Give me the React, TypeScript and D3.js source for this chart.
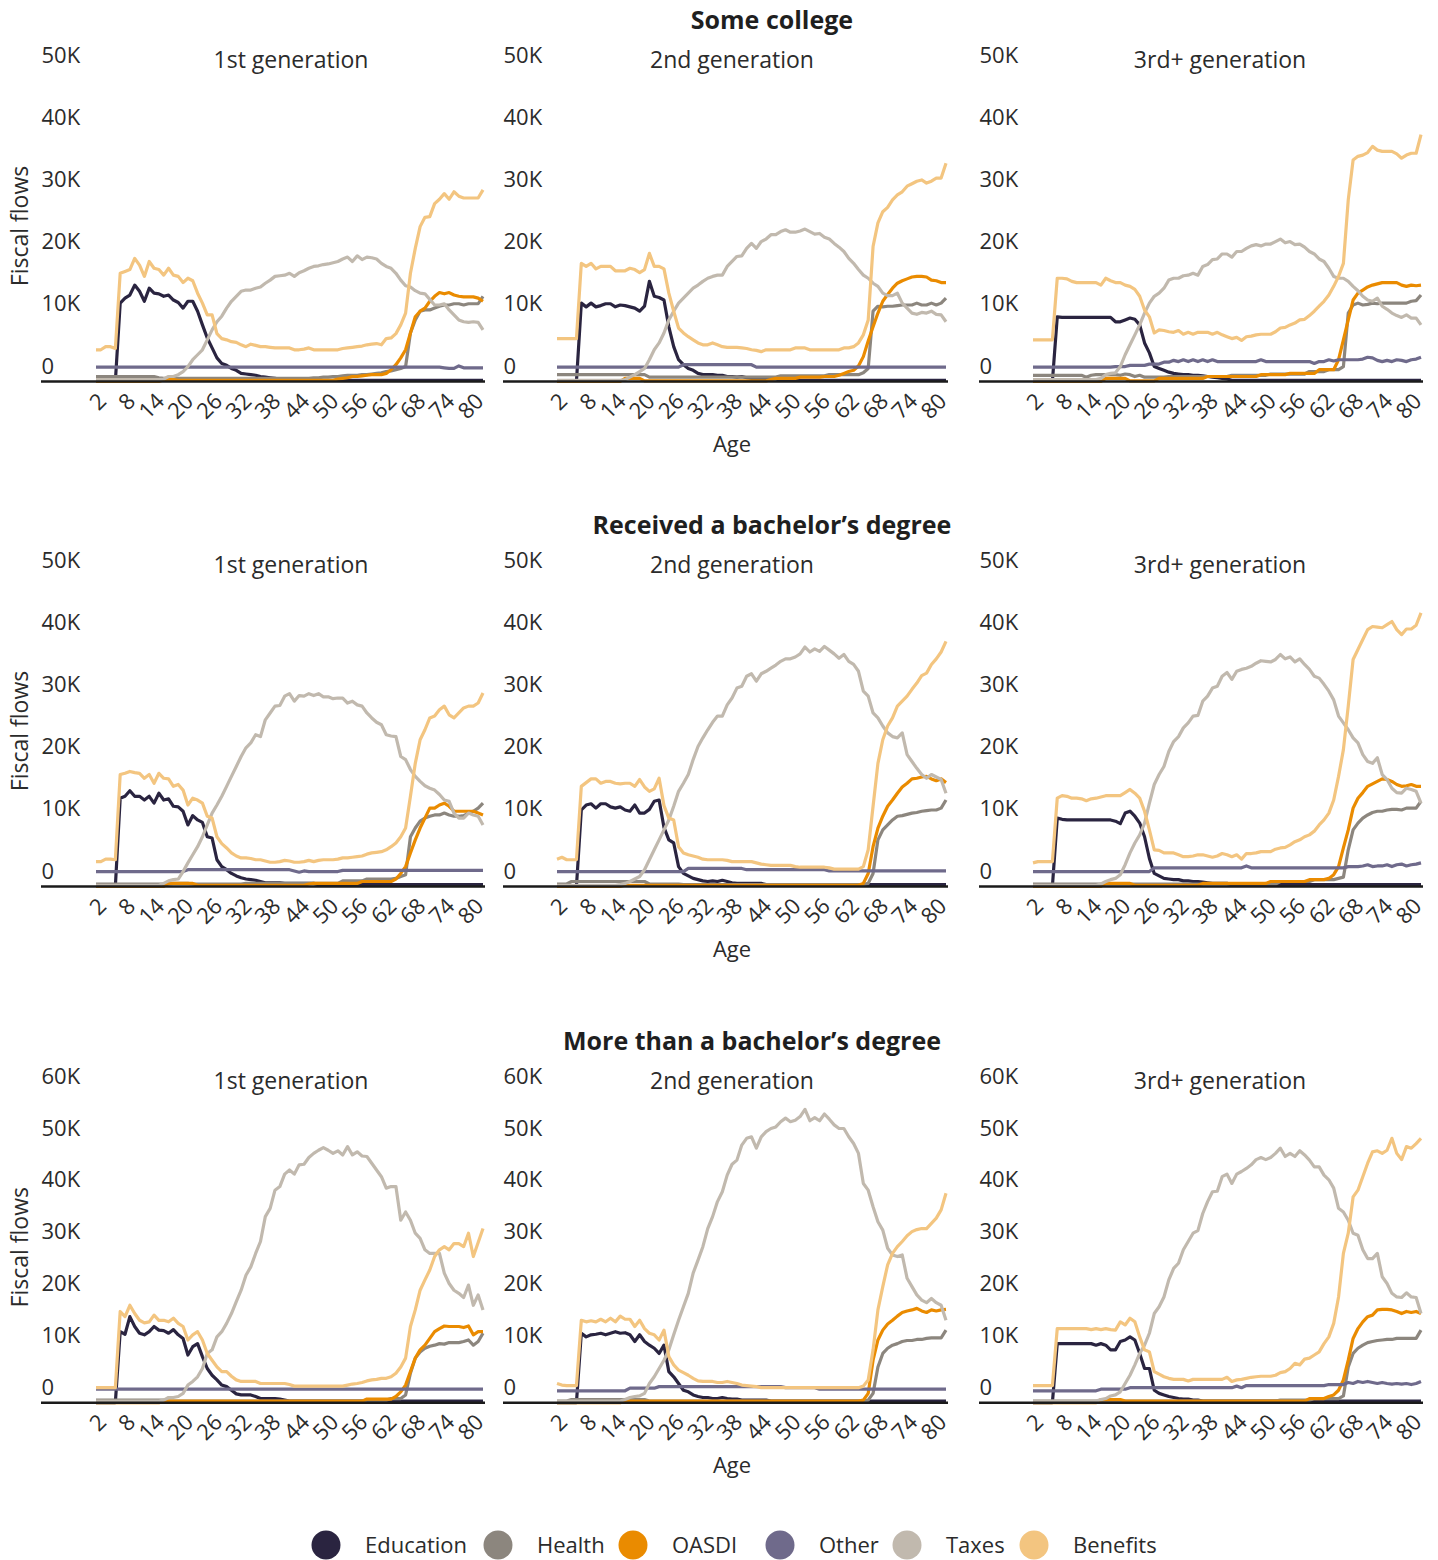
import React from 'react';
import * as d3 from 'd3';

// Ages on the horizontal axis and the ages that carry a tick label
const AGES = [
  0, 1, 2, 3, 4, 5, 6, 7, 8, 9, 10, 11, 12, 13, 14, 15, 16, 17, 18, 19,
  20, 21, 22, 23, 24, 25, 26, 27, 28, 29, 30, 31, 32, 33, 34, 35, 36, 37, 38, 39,
  40, 41, 42, 43, 44, 45, 46, 47, 48, 49, 50, 51, 52, 53, 54, 55, 56, 57, 58, 59,
  60, 61, 62, 63, 64, 65, 66, 67, 68, 69, 70, 71, 72, 73, 74, 75, 76, 77, 78, 79, 80,
];
const AGE_TICKS = [2, 8, 14, 20, 26, 32, 38, 44, 50, 56, 62, 68, 74, 80];

const SERIES = ['Education', 'Health', 'OASDI', 'Other', 'Taxes', 'Benefits'];
const SERIES_COLORS = ['#2a2440', '#8c867e', '#ea8b00', '#6f6a8b', '#c1b9ae', '#f3c580'];

const EDUCATION_LEVELS = ['Some college', 'Received a bachelor\u2019s degree', 'More than a bachelor\u2019s degree'];
const GENERATIONS = ['1st generation', '2nd generation', '3rd+ generation'];

// y ticks, thousands of dollars
const Y_TICKS_50 = [0, 10, 20, 30, 40, 50];
const Y_TICKS_60 = [0, 10, 20, 30, 40, 50, 60];

// Fiscal flows per person, thousands of dollars, ages 0..80
// ---- Some college, 1st generation
const SC1_EDU = [
  0, 0, 0, 0, 0, 12.6, 13.4, 13.9, 15.5, 14.5,
  12.9, 15.0, 14.2, 14.1, 13.7, 13.9, 13.1, 12.7, 11.8, 12.9,
  12.9, 11.3, 9.1, 7.0, 5.4, 3.8, 2.9, 2.6, 2.1, 1.8,
  1.3, 1.2, 1.1, 1.0, 0.8, 0.7, 0.6, 0.5, 0.4, 0.3,
  0.3, 0.2, 0.2, 0.2, 0.2, 0.2, 0.2, 0.2, 0.2, 0.2,
  0.2, 0.2, 0.2, 0.2, 0.2, 0.2, 0.2, 0.2, 0.2, 0.2,
  0.2, 0.2, 0.2, 0.2, 0.2, 0.2, 0.2, 0.2, 0.2, 0.2,
  0.2, 0.2, 0.2, 0.2, 0.2, 0.2, 0.2, 0.2, 0.2, 0.2,
  0.2,
];
const SC1_HEA = [
  0.8, 0.8, 0.8, 0.8, 0.8, 0.8, 0.8, 0.8, 0.8, 0.8,
  0.8, 0.8, 0.8, 0.6, 0.5, 0.5, 0.5, 0.5, 0.5, 0.5,
  0.5, 0.5, 0.5, 0.5, 0.5, 0.5, 0.5, 0.5, 0.5, 0.5,
  0.5, 0.5, 0.5, 0.5, 0.5, 0.5, 0.5, 0.5, 0.5, 0.5,
  0.5, 0.5, 0.5, 0.5, 0.5, 0.6, 0.6, 0.7, 0.7, 0.8,
  0.8, 0.9, 1.0, 1.0, 1.0, 1.1, 1.1, 1.2, 1.3, 1.4,
  1.6, 1.7, 1.9, 2.1, 2.4, 7.8, 9.9, 11.3, 11.5, 11.5,
  11.8, 12.1, 12.3, 12.3, 12.5, 12.5, 12.3, 12.5, 12.5, 12.5,
  13.7,
];
const SC1_OAS = [
  0, 0, 0, 0, 0, 0, 0, 0, 0, 0,
  0, 0, 0, 0, 0.3, 0.3, 0.3, 0.2, 0.2, 0.2,
  0.2, 0.2, 0.2, 0.2, 0.2, 0.2, 0.2, 0.2, 0.2, 0.2,
  0.2, 0.2, 0.2, 0.2, 0.2, 0.2, 0.2, 0.2, 0.2, 0.2,
  0.2, 0.2, 0.2, 0.2, 0.2, 0.2, 0.2, 0.2, 0.2, 0.2,
  0.4, 0.5, 0.6, 0.8, 0.8, 0.9, 1.0, 1.1, 1.1, 1.1,
  1.3, 1.9, 2.7, 3.8, 5.1, 7.8, 10.4, 11.3, 11.8, 12.9,
  13.7, 14.3, 14.1, 14.3, 13.9, 13.7, 13.6, 13.6, 13.6, 13.4,
  12.9,
];
const SC1_OTH = [
  2.3, 2.3, 2.3, 2.3, 2.3, 2.3, 2.3, 2.3, 2.3, 2.3,
  2.3, 2.3, 2.3, 2.3, 2.3, 2.3, 2.3, 2.3, 2.3, 2.3,
  2.3, 2.3, 2.3, 2.3, 2.3, 2.3, 2.3, 2.3, 2.3, 2.3,
  2.3, 2.3, 2.3, 2.3, 2.3, 2.3, 2.3, 2.3, 2.3, 2.3,
  2.3, 2.3, 2.3, 2.3, 2.3, 2.3, 2.3, 2.3, 2.3, 2.3,
  2.3, 2.3, 2.3, 2.3, 2.3, 2.3, 2.3, 2.3, 2.3, 2.3,
  2.3, 2.3, 2.3, 2.3, 2.3, 2.3, 2.3, 2.3, 2.3, 2.3,
  2.3, 2.3, 2.2, 2.1, 2.1, 2.5, 2.2, 2.2, 2.2, 2.2,
  2.2,
];
const SC1_TAX = [
  0.3, 0.3, 0.3, 0.3, 0.3, 0.3, 0.3, 0.3, 0.3, 0.3,
  0.3, 0.3, 0.3, 0.3, 0.4, 0.8, 0.8, 1.1, 1.6, 2.4,
  3.5, 4.3, 5.1, 6.7, 8.3, 9.6, 10.5, 11.8, 12.9, 13.7,
  14.5, 14.7, 14.7, 15.0, 15.2, 15.8, 16.3, 16.9, 17.0, 17.1,
  17.4, 16.9, 17.5, 17.8, 18.2, 18.5, 18.6, 18.8, 18.9, 19.1,
  19.3, 19.7, 20.0, 19.3, 20.2, 19.6, 20.0, 19.9, 19.7, 19.0,
  18.5, 18.2, 17.4, 16.3, 15.4, 15.2, 14.6, 14.2, 14.1, 13.2,
  12.3, 12.3, 12.5, 11.5, 10.7, 9.9, 9.6, 9.5, 9.6, 9.5,
  8.3,
];
const SC1_BEN = [
  5.1, 5.1, 5.6, 5.6, 5.3, 17.4, 17.7, 18.0, 19.8, 18.7,
  16.9, 19.3, 18.2, 18.0, 17.1, 18.2, 17.1, 16.9, 15.9, 16.6,
  16.2, 14.2, 12.6, 10.7, 10.7, 7.7, 6.9, 6.7, 6.4, 6.3,
  5.9, 5.6, 6.0, 5.8, 5.6, 5.6, 5.5, 5.4, 5.4, 5.4,
  5.4, 5.1, 5.1, 5.2, 5.4, 5.1, 5.1, 5.1, 5.1, 5.1,
  5.1, 5.3, 5.4, 5.5, 5.6, 5.7, 5.9, 6.0, 6.1, 5.9,
  6.9, 7.0, 7.7, 9.1, 11.0, 17.4, 21.4, 24.9, 26.4, 26.5,
  28.6, 29.3, 30.2, 29.3, 30.5, 29.8, 29.5, 29.5, 29.5, 29.5,
  30.8,
];

// ---- Some college, 2nd generation
const SC2_EDU = [
  0, 0, 0, 0, 0, 12.6, 12.0, 12.6, 12.0, 12.2,
  12.5, 12.5, 12.0, 12.3, 12.2, 12.0, 11.8, 11.3, 12.1, 16.1,
  13.7, 13.5, 13.1, 8.8, 5.6, 3.5, 2.7, 2.1, 1.8, 1.3,
  1.1, 1.1, 1.1, 1.0, 1.0, 0.8, 0.8, 0.7, 0.8, 0.6,
  0.5, 0.4, 0.4, 0.4, 0.4, 0.4, 0.2, 0.2, 0.2, 0.2,
  0.2, 0.2, 0.2, 0.2, 0.2, 0.2, 0.2, 0.2, 0.2, 0.2,
  0.2, 0.2, 0.2, 0.2, 0.2, 0.2, 0.2, 0.2, 0.2, 0.2,
  0.2, 0.2, 0.2, 0.2, 0.2, 0.2, 0.2, 0.2, 0.2, 0.2,
  0.2,
];
const SC2_HEA = [
  1.1, 1.1, 1.1, 1.1, 1.1, 1.1, 1.1, 1.1, 1.1, 1.1,
  1.1, 1.1, 1.1, 1.1, 1.1, 1.1, 1.1, 1.1, 1.1, 0.7,
  0.7, 0.7, 0.7, 0.7, 0.7, 0.7, 0.7, 0.7, 0.7, 0.7,
  0.7, 0.7, 0.7, 0.7, 0.7, 0.7, 0.7, 0.7, 0.7, 0.7,
  0.7, 0.7, 0.7, 0.7, 0.7, 0.7, 0.9, 0.9, 0.9, 0.9,
  0.9, 0.9, 0.9, 0.9, 0.9, 0.9, 1.1, 1.1, 1.1, 1.1,
  1.1, 1.1, 1.1, 1.4, 2.1, 11.3, 12.1, 12.0, 12.1, 12.1,
  12.2, 12.3, 12.3, 12.3, 12.6, 12.3, 12.3, 12.6, 12.3, 12.6,
  13.4,
];
const SC2_OAS = [
  0, 0, 0, 0, 0, 0, 0, 0, 0, 0,
  0, 0, 0, 0, 0.5, 0.5, 0.5, 0.5, 0.1, 0.1,
  0.1, 0.1, 0.1, 0.1, 0.1, 0.1, 0.1, 0.1, 0.1, 0.1,
  0.1, 0.1, 0.1, 0.1, 0.1, 0.1, 0.1, 0.1, 0.1, 0.1,
  0.1, 0.1, 0.1, 0.1, 0.3, 0.5, 0.5, 0.5, 0.5, 0.5,
  0.7, 0.7, 0.7, 0.7, 0.7, 0.8, 0.8, 0.8, 1.0, 1.3,
  1.6, 1.8, 2.5, 4.0, 6.5, 8.8, 11.0, 12.9, 14.0, 15.0,
  15.8, 16.2, 16.5, 16.8, 16.9, 16.9, 16.8, 16.3, 16.2, 15.9,
  15.9,
];
const SC2_OTH = [
  2.3, 2.3, 2.3, 2.3, 2.3, 2.3, 2.3, 2.3, 2.3, 2.3,
  2.3, 2.3, 2.3, 2.3, 2.3, 2.3, 2.3, 2.3, 2.3, 2.3,
  2.3, 2.3, 2.3, 2.3, 2.3, 2.3, 2.7, 2.7, 2.7, 2.7,
  2.7, 2.7, 2.7, 2.7, 2.7, 2.7, 2.7, 2.7, 2.7, 2.7,
  2.7, 2.3, 2.3, 2.3, 2.3, 2.3, 2.3, 2.3, 2.3, 2.3,
  2.3, 2.3, 2.3, 2.3, 2.3, 2.3, 2.3, 2.3, 2.3, 2.3,
  2.3, 2.3, 2.3, 2.3, 2.3, 2.3, 2.3, 2.3, 2.3, 2.3,
  2.3, 2.3, 2.3, 2.3, 2.3, 2.3, 2.3, 2.3, 2.3, 2.3,
  2.3,
];
const SC2_TAX = [
  0.2, 0.2, 0.2, 0.2, 0.2, 0.2, 0.2, 0.2, 0.2, 0.2,
  0.2, 0.2, 0.2, 0.2, 0.3, 0.7, 1.1, 1.6, 2.1, 3.5,
  5.1, 6.2, 7.8, 9.9, 11.3, 12.6, 13.4, 14.2, 15.0, 15.5,
  16.1, 16.6, 16.9, 17.1, 17.1, 18.5, 19.3, 20.1, 20.2, 21.4,
  22.2, 21.4, 22.5, 22.9, 23.6, 23.6, 24.1, 24.4, 24.0, 24.0,
  24.2, 24.5, 24.1, 23.7, 23.8, 23.2, 22.9, 22.2, 21.6, 20.9,
  19.8, 19.0, 18.0, 17.1, 16.6, 15.8, 15.3, 14.2, 13.8, 13.8,
  14.2, 12.6, 11.8, 11.0, 10.8, 11.1, 11.0, 11.3, 10.8, 10.7,
  9.6,
];
const SC2_BEN = [
  6.9, 6.9, 6.9, 6.9, 6.9, 19.0, 18.5, 19.0, 18.1, 18.5,
  18.5, 18.5, 17.8, 17.8, 17.8, 18.2, 18.0, 17.5, 18.0, 20.6,
  18.5, 18.5, 18.1, 14.2, 11.3, 8.6, 7.8, 7.2, 6.7, 6.2,
  5.9, 5.9, 6.2, 5.9, 5.6, 5.5, 5.5, 5.5, 5.4, 5.3,
  5.1, 5.0, 4.8, 5.1, 5.1, 5.1, 5.1, 5.1, 5.1, 5.4,
  5.4, 5.4, 5.1, 5.1, 5.1, 5.1, 5.1, 5.1, 5.1, 5.4,
  5.4, 5.6, 6.2, 7.5, 9.9, 21.7, 25.5, 27.3, 28.0, 29.2,
  30.0, 30.5, 31.4, 31.8, 32.2, 32.4, 31.9, 32.2, 32.7, 32.7,
  35.1,
];

// ---- Some college, 3rd+ generation
const SC3_EDU = [
  0, 0, 0, 0, 0, 10.4, 10.3, 10.3, 10.3, 10.3,
  10.3, 10.3, 10.3, 10.3, 10.3, 10.3, 10.3, 9.6, 9.6, 9.9,
  10.2, 10.0, 9.1, 6.2, 4.6, 2.4, 2.1, 1.8, 1.5, 1.3,
  1.2, 1.1, 1.1, 1.0, 1.0, 0.9, 0.8, 0.7, 0.6, 0.5,
  0.4, 0.2, 0.2, 0.2, 0.2, 0.2, 0.2, 0.2, 0.2, 0.2,
  0.2, 0.2, 0.2, 0.2, 0.2, 0.2, 0.2, 0.2, 0.2, 0.2,
  0.2, 0.2, 0.2, 0.2, 0.2, 0.2, 0.2, 0.2, 0.2, 0.2,
  0.2, 0.2, 0.2, 0.2, 0.2, 0.2, 0.2, 0.2, 0.2, 0.2,
  0.2,
];
const SC3_HEA = [
  1.0, 1.0, 1.0, 1.0, 1.0, 1.0, 1.0, 1.0, 1.0, 1.0,
  1.0, 0.7, 1.0, 1.1, 1.1, 1.1, 1.1, 1.1, 1.0, 1.2,
  1.1, 0.8, 1.0, 0.7, 0.7, 0.7, 0.7, 0.7, 0.8, 0.8,
  0.8, 0.8, 0.8, 0.8, 0.8, 0.8, 0.8, 0.8, 0.8, 0.8,
  0.8, 1.0, 1.0, 1.0, 1.0, 1.0, 1.0, 1.0, 1.0, 1.2,
  1.2, 1.2, 1.2, 1.2, 1.2, 1.2, 1.2, 1.6, 1.6, 1.6,
  1.6, 1.9, 1.9, 1.9, 2.4, 11.0, 12.3, 12.6, 12.3, 12.4,
  12.6, 12.5, 12.6, 12.6, 12.6, 12.6, 12.6, 12.6, 12.9, 13.0,
  13.9,
];
const SC3_OAS = [
  0, 0, 0, 0, 0, 0, 0, 0, 0, 0,
  0, 0, 0, 0, 0, 0.5, 0.5, 0.5, 0.5, 0.5,
  0.1, 0.1, 0.1, 0.1, 0.1, 0.1, 0.5, 0.5, 0.5, 0.5,
  0.5, 0.5, 0.5, 0.5, 0.5, 0.5, 0.8, 0.8, 0.8, 0.8,
  0.8, 0.8, 0.8, 0.8, 0.8, 0.8, 0.8, 1.1, 1.1, 1.1,
  1.1, 1.1, 1.1, 1.3, 1.3, 1.3, 1.3, 1.3, 1.3, 1.9,
  1.9, 1.9, 1.9, 3.5, 6.7, 9.9, 13.1, 14.2, 14.7, 15.2,
  15.5, 15.7, 15.9, 15.9, 15.9, 15.9, 15.5, 15.3, 15.5, 15.4,
  15.5,
];
const SC3_OTH = [
  2.3, 2.3, 2.3, 2.3, 2.3, 2.3, 2.3, 2.3, 2.3, 2.3,
  2.3, 2.3, 2.3, 2.3, 2.3, 2.3, 2.3, 2.4, 2.4, 2.4,
  2.6, 2.6, 2.6, 2.6, 2.8, 2.8, 2.8, 3.1, 3.1, 3.4,
  3.2, 3.5, 3.2, 3.5, 3.2, 3.5, 3.2, 3.5, 3.2, 3.2,
  3.2, 3.2, 3.2, 3.2, 3.2, 3.2, 3.2, 3.5, 3.2, 3.2,
  3.2, 3.2, 3.2, 3.2, 3.2, 3.2, 3.2, 3.2, 2.9, 3.2,
  3.2, 3.5, 3.3, 3.5, 3.5, 3.5, 3.5, 3.5, 3.6, 3.9,
  3.8, 3.4, 3.2, 3.4, 3.2, 3.5, 3.4, 3.2, 3.5, 3.6,
  3.9,
];
const SC3_TAX = [
  0.3, 0.3, 0.3, 0.3, 0.3, 0.3, 0.3, 0.3, 0.3, 0.3,
  0.3, 0.3, 0.3, 0.3, 0.5, 1.1, 1.3, 1.4, 2.4, 4.3,
  5.9, 7.5, 9.1, 11.0, 12.6, 13.7, 14.2, 15.0, 16.3, 16.6,
  16.6, 17.0, 17.1, 17.4, 17.1, 18.5, 18.8, 19.6, 19.7, 20.5,
  20.5, 20.0, 20.9, 20.9, 21.4, 21.8, 22.0, 21.8, 22.1, 22.1,
  22.5, 22.9, 22.3, 22.5, 22.0, 22.1, 21.6, 20.9, 20.5, 19.7,
  19.3, 18.2, 16.9, 16.6, 16.6, 16.1, 15.3, 14.6, 13.7, 13.1,
  12.9, 13.4, 12.1, 11.6, 11.0, 10.6, 10.3, 10.7, 10.2, 10.2,
  9.1,
];
const SC3_BEN = [
  6.7, 6.7, 6.7, 6.7, 6.7, 16.6, 16.6, 16.5, 16.1, 15.9,
  15.9, 15.9, 15.9, 15.9, 15.5, 16.6, 16.2, 15.9, 15.9, 15.5,
  15.3, 14.8, 13.7, 11.5, 10.4, 7.8, 8.3, 8.2, 8.0, 7.9,
  8.2, 7.6, 7.9, 7.6, 7.9, 7.9, 7.9, 7.6, 7.9, 7.5,
  7.2, 6.9, 7.1, 6.6, 7.2, 7.3, 7.5, 7.6, 7.6, 7.6,
  8.0, 8.6, 8.7, 9.1, 9.4, 9.9, 10.0, 10.6, 11.3, 12.1,
  12.9, 13.9, 15.3, 16.9, 19.0, 29.2, 35.6, 36.2, 36.4, 36.8,
  37.8, 37.2, 37.0, 37.0, 37.0, 36.6, 35.9, 36.4, 36.7, 36.7,
  39.7,
];

// ---- Bachelor's degree, 1st generation
const BA1_EDU = [
  0, 0, 0, 0, 0, 14.2, 14.5, 15.4, 14.5, 14.5,
  13.9, 14.5, 13.4, 15.0, 13.9, 14.1, 12.9, 12.8, 12.1, 9.9,
  11.4, 10.7, 10.3, 8.0, 7.8, 4.3, 3.2, 2.7, 2.1, 1.7,
  1.4, 1.2, 1.1, 1.0, 0.8, 0.6, 0.6, 0.6, 0.6, 0.5,
  0.5, 0.5, 0.5, 0.5, 0.5, 0.5, 0.3, 0.3, 0.3, 0.3,
  0.3, 0.3, 0.3, 0.3, 0.3, 0.3, 0.3, 0.3, 0.3, 0.3,
  0.3, 0.3, 0.3, 0.3, 0.3, 0.3, 0.3, 0.3, 0.3, 0.3,
  0.3, 0.3, 0.3, 0.3, 0.3, 0.3, 0.3, 0.3, 0.3, 0.3,
  0.3,
];
const BA1_HEA = [
  0.4, 0.4, 0.4, 0.4, 0.4, 0.4, 0.4, 0.4, 0.4, 0.4,
  0.4, 0.4, 0.4, 0.4, 0.4, 0.4, 0.5, 0.5, 0.5, 0.5,
  0.4, 0.4, 0.4, 0.4, 0.4, 0.4, 0.4, 0.4, 0.4, 0.4,
  0.4, 0.5, 0.5, 0.5, 0.5, 0.5, 0.5, 0.5, 0.5, 0.5,
  0.5, 0.5, 0.5, 0.5, 0.5, 0.5, 0.5, 0.5, 0.5, 0.5,
  0.5, 0.9, 0.9, 0.9, 0.9, 0.9, 1.2, 1.2, 1.2, 1.2,
  1.2, 1.2, 1.3, 1.6, 1.9, 8.0, 9.4, 10.5, 11.0, 11.3,
  11.5, 11.5, 11.8, 11.5, 11.3, 11.3, 11.4, 11.8, 12.1, 12.6,
  13.4,
];
const BA1_OAS = [
  0, 0, 0, 0, 0, 0, 0, 0, 0, 0,
  0, 0, 0, 0, 0, 0.5, 0.5, 0.5, 0.5, 0.5,
  0.5, 0.2, 0.2, 0.2, 0.2, 0.2, 0.2, 0.2, 0.2, 0.2,
  0.2, 0.2, 0.2, 0.2, 0.2, 0.2, 0.2, 0.2, 0.2, 0.2,
  0.2, 0.2, 0.2, 0.2, 0.4, 0.5, 0.5, 0.5, 0.5, 0.5,
  0.5, 0.5, 0.5, 0.5, 0.5, 0.8, 0.8, 0.8, 0.8, 0.8,
  0.8, 0.8, 1.2, 2.1, 3.2, 5.4, 7.5, 9.4, 11.0, 12.6,
  12.6, 13.1, 13.4, 12.9, 12.1, 12.1, 12.1, 12.1, 12.1, 11.8,
  11.5,
];
const BA1_OTH = [
  2.4, 2.4, 2.4, 2.4, 2.4, 2.4, 2.4, 2.4, 2.4, 2.4,
  2.4, 2.4, 2.4, 2.4, 2.4, 2.4, 2.4, 2.4, 2.4, 2.7,
  2.7, 2.7, 2.7, 2.7, 2.7, 2.7, 2.7, 2.7, 2.7, 2.7,
  2.7, 2.7, 2.7, 2.7, 2.7, 2.7, 2.7, 2.7, 2.7, 2.7,
  2.7, 2.5, 2.3, 2.5, 2.4, 2.4, 2.4, 2.4, 2.4, 2.4,
  2.4, 2.6, 2.6, 2.6, 2.6, 2.6, 2.6, 2.6, 2.6, 2.6,
  2.6, 2.6, 2.6, 2.6, 2.6, 2.6, 2.6, 2.6, 2.6, 2.6,
  2.6, 2.6, 2.6, 2.6, 2.6, 2.6, 2.6, 2.6, 2.6, 2.6,
  2.6,
];
const BA1_TAX = [
  0.2, 0.2, 0.2, 0.2, 0.2, 0.2, 0.2, 0.2, 0.2, 0.2,
  0.2, 0.2, 0.2, 0.2, 0.5, 0.9, 1.1, 1.2, 2.4, 3.8,
  5.1, 6.4, 8.0, 9.9, 11.8, 13.1, 14.5, 16.1, 17.7, 19.3,
  20.9, 22.3, 23.1, 24.4, 24.1, 26.8, 27.9, 29.0, 29.1, 30.6,
  31.0, 29.8, 30.7, 30.6, 31.0, 30.7, 31.0, 30.5, 30.5, 30.2,
  30.3, 30.3, 29.5, 29.8, 29.2, 29.0, 27.9, 27.1, 26.4, 26.0,
  24.4, 24.2, 24.1, 20.9, 20.4, 18.8, 17.7, 16.9, 16.2, 15.8,
  15.5, 14.8, 13.9, 13.7, 11.8, 11.0, 11.0, 11.8, 11.5, 11.3,
  9.9,
];
const BA1_BEN = [
  4.0, 4.0, 4.4, 4.4, 4.3, 18.0, 18.2, 18.5, 18.3, 18.2,
  17.4, 18.0, 16.6, 18.2, 17.4, 17.3, 16.1, 16.4, 15.5, 13.1,
  14.2, 13.9, 13.4, 11.3, 11.0, 8.0, 6.9, 6.2, 5.4, 4.9,
  4.6, 4.6, 4.5, 4.3, 4.3, 4.1, 3.9, 3.9, 4.0, 4.2,
  4.1, 3.9, 3.9, 4.0, 4.2, 4.0, 4.2, 4.3, 4.3, 4.3,
  4.4, 4.6, 4.6, 4.7, 4.8, 4.9, 5.2, 5.4, 5.5, 5.6,
  5.9, 6.4, 7.0, 8.0, 9.4, 14.5, 19.8, 23.6, 25.2, 27.1,
  27.4, 28.4, 29.0, 27.6, 27.1, 27.9, 28.7, 29.0, 29.0, 29.5,
  31.1,
];

// ---- Bachelor's degree, 2nd generation
const BA2_EDU = [
  0, 0, 0, 0, 0, 12.3, 13.1, 13.3, 12.6, 13.3,
  13.3, 12.8, 12.6, 12.8, 12.3, 12.1, 13.1, 11.8, 11.8, 12.4,
  13.7, 13.9, 9.5, 7.5, 7.0, 3.2, 2.1, 1.7, 1.3, 1.1,
  0.9, 0.8, 0.9, 0.8, 1.0, 0.8, 0.6, 0.5, 0.5, 0.5,
  0.5, 0.5, 0.5, 0.3, 0.3, 0.3, 0.3, 0.3, 0.3, 0.3,
  0.3, 0.3, 0.3, 0.3, 0.3, 0.3, 0.3, 0.3, 0.3, 0.3,
  0.3, 0.3, 0.3, 0.3, 0.3, 0.3, 0.3, 0.3, 0.3, 0.3,
  0.3, 0.3, 0.3, 0.3, 0.3, 0.3, 0.3, 0.3, 0.3, 0.3,
  0.3,
];
const BA2_HEA = [
  0.4, 0.4, 0.4, 0.8, 0.8, 0.8, 0.8, 0.8, 0.8, 0.8,
  0.8, 0.8, 0.8, 0.8, 0.8, 0.8, 0.8, 0.8, 0.8, 0.4,
  0.4, 0.4, 0.4, 0.4, 0.4, 0.4, 0.3, 0.3, 0.3, 0.3,
  0.3, 0.3, 0.3, 0.3, 0.3, 0.3, 0.3, 0.3, 0.3, 0.3,
  0.3, 0.3, 0.3, 0.3, 0.3, 0.3, 0.3, 0.3, 0.3, 0.3,
  0.3, 0.3, 0.3, 0.3, 0.3, 0.3, 0.3, 0.3, 0.3, 0.3,
  0.3, 0.3, 0.3, 0.3, 0.5, 2.1, 7.5, 9.1, 9.9, 10.7,
  11.3, 11.4, 11.6, 11.8, 11.9, 12.1, 12.2, 12.3, 12.3, 12.6,
  13.9,
];
const BA2_OAS = [
  0, 0, 0, 0, 0, 0, 0, 0, 0, 0,
  0, 0, 0, 0, 0.2, 0.2, 0.2, 0.2, 0.2, 0.2,
  0.2, 0.2, 0.2, 0.2, 0.2, 0.2, 0.2, 0.2, 0.2, 0.2,
  0.2, 0.2, 0.2, 0.2, 0.2, 0.2, 0.2, 0.2, 0.2, 0.2,
  0.2, 0.2, 0.2, 0.2, 0.2, 0.2, 0.2, 0.2, 0.2, 0.2,
  0.2, 0.2, 0.2, 0.2, 0.2, 0.2, 0.2, 0.2, 0.2, 0.2,
  0.2, 0.2, 0.2, 0.5, 2.1, 6.4, 9.4, 11.3, 12.9, 13.9,
  15.0, 16.0, 16.6, 17.3, 17.4, 17.6, 17.7, 17.3, 17.0, 17.3,
  16.7,
];
const BA2_OTH = [
  2.4, 2.4, 2.4, 2.4, 2.4, 2.4, 2.4, 2.4, 2.4, 2.4,
  2.4, 2.4, 2.4, 2.4, 2.4, 2.4, 2.4, 2.4, 2.4, 2.4,
  2.4, 2.4, 2.4, 2.4, 2.4, 2.4, 2.4, 2.9, 2.9, 2.9,
  2.9, 2.9, 2.9, 2.9, 2.9, 2.9, 2.9, 2.9, 2.9, 2.7,
  2.7, 2.7, 2.7, 2.7, 2.7, 2.7, 2.7, 2.7, 2.7, 2.7,
  2.7, 2.7, 2.7, 2.7, 2.7, 2.7, 2.5, 2.5, 2.5, 2.5,
  2.5, 2.5, 2.5, 2.5, 2.5, 2.5, 2.5, 2.5, 2.5, 2.5,
  2.5, 2.5, 2.5, 2.5, 2.5, 2.5, 2.5, 2.5, 2.5, 2.5,
  2.5,
];
const BA2_TAX = [
  0.2, 0.2, 0.2, 0.2, 0.2, 0.2, 0.2, 0.2, 0.2, 0.2,
  0.2, 0.2, 0.2, 0.3, 0.5, 0.8, 1.2, 1.6, 2.7, 4.3,
  5.9, 7.5, 9.1, 10.7, 12.9, 15.3, 16.6, 18.0, 20.4, 22.5,
  23.9, 25.2, 26.4, 27.4, 27.4, 29.2, 30.3, 31.9, 32.2, 33.8,
  34.2, 33.0, 34.2, 34.6, 35.1, 35.6, 36.2, 36.6, 36.6, 36.9,
  37.4, 38.5, 37.7, 38.2, 37.8, 38.6, 38.0, 37.4, 36.7, 37.3,
  36.2, 35.7, 34.6, 31.4, 30.6, 27.9, 27.1, 25.8, 24.7, 24.1,
  23.9, 24.7, 21.2, 20.1, 19.0, 18.0, 17.4, 18.0, 17.6, 17.2,
  15.0,
];
const BA2_BEN = [
  4.4, 4.7, 4.3, 4.3, 4.3, 16.1, 16.7, 17.3, 17.3, 16.6,
  16.9, 16.9, 16.6, 16.5, 16.6, 16.6, 16.1, 17.2, 16.0, 15.3,
  15.7, 17.4, 13.0, 11.0, 10.7, 6.4, 5.4, 5.1, 4.9, 4.7,
  4.4, 4.3, 4.3, 4.3, 4.3, 4.2, 4.0, 4.0, 4.0, 4.0,
  4.0, 3.8, 3.6, 3.5, 3.4, 3.4, 3.4, 3.4, 3.4, 3.2,
  3.1, 3.1, 3.1, 3.1, 3.1, 3.1, 3.0, 2.8, 2.8, 2.8,
  2.8, 2.8, 2.8, 3.2, 5.9, 12.9, 19.8, 23.6, 25.8, 27.1,
  29.0, 29.8, 30.6, 31.7, 32.7, 33.9, 34.3, 35.7, 36.6, 37.7,
  39.4,
];

// ---- Bachelor's degree, 3rd+ generation
const BA3_EDU = [
  0, 0, 0, 0, 0, 11.0, 10.8, 10.7, 10.7, 10.7,
  10.7, 10.7, 10.7, 10.7, 10.7, 10.7, 10.7, 10.5, 10.1, 11.8,
  12.1, 11.3, 10.2, 8.0, 4.5, 2.1, 1.7, 1.3, 1.2, 1.1,
  1.1, 0.9, 0.9, 0.8, 0.8, 0.7, 0.6, 0.5, 0.5, 0.5,
  0.5, 0.3, 0.3, 0.3, 0.3, 0.3, 0.3, 0.3, 0.3, 0.3,
  0.3, 0.3, 0.3, 0.3, 0.3, 0.3, 0.3, 0.3, 0.3, 0.3,
  0.3, 0.3, 0.3, 0.3, 0.3, 0.3, 0.3, 0.3, 0.3, 0.3,
  0.3, 0.3, 0.3, 0.3, 0.3, 0.3, 0.3, 0.3, 0.3, 0.3,
  0.3,
];
const BA3_HEA = [
  0.4, 0.4, 0.4, 0.4, 0.4, 0.4, 0.4, 0.4, 0.4, 0.4,
  0.4, 0.4, 0.4, 0.4, 0.4, 0.4, 0.4, 0.4, 0.4, 0.4,
  0.4, 0.4, 0.4, 0.4, 0.4, 0.4, 0.4, 0.4, 0.4, 0.4,
  0.4, 0.4, 0.4, 0.4, 0.4, 0.4, 0.4, 0.4, 0.4, 0.4,
  0.4, 0.4, 0.4, 0.4, 0.4, 0.4, 0.4, 0.4, 0.4, 0.4,
  0.4, 0.8, 0.8, 0.8, 0.8, 0.8, 0.8, 0.8, 1.1, 1.1,
  1.1, 1.1, 1.1, 1.3, 1.5, 5.9, 9.1, 10.2, 11.0, 11.5,
  11.9, 12.1, 12.1, 12.3, 12.4, 12.4, 12.3, 12.6, 12.6, 12.6,
  13.7,
];
const BA3_OAS = [
  0, 0, 0, 0, 0, 0, 0, 0, 0, 0,
  0, 0, 0, 0, 0, 0.5, 0.5, 0.5, 0.5, 0.5,
  0.5, 0.2, 0.2, 0.2, 0.2, 0.2, 0.2, 0.2, 0.2, 0.2,
  0.2, 0.2, 0.2, 0.2, 0.2, 0.5, 0.5, 0.5, 0.5, 0.5,
  0.5, 0.5, 0.5, 0.5, 0.5, 0.5, 0.5, 0.5, 0.5, 0.8,
  0.8, 0.8, 0.8, 0.8, 0.8, 0.8, 0.8, 1.1, 1.1, 1.1,
  1.1, 1.3, 1.9, 3.2, 6.2, 9.1, 12.6, 14.2, 15.1, 16.1,
  16.5, 16.9, 17.3, 17.2, 16.9, 16.4, 16.1, 16.2, 16.4, 16.1,
  16.1,
];
const BA3_OTH = [
  2.4, 2.4, 2.4, 2.4, 2.4, 2.4, 2.4, 2.4, 2.4, 2.4,
  2.4, 2.4, 2.4, 2.4, 2.4, 2.4, 2.4, 2.4, 2.4, 2.4,
  2.4, 2.4, 2.4, 2.4, 2.4, 3.0, 3.0, 3.0, 3.0, 3.0,
  3.0, 3.0, 3.0, 3.0, 3.0, 3.0, 3.0, 3.0, 3.0, 3.0,
  3.0, 3.0, 3.0, 3.0, 3.3, 3.0, 3.0, 3.0, 3.0, 3.0,
  3.0, 3.0, 3.0, 3.0, 3.0, 3.0, 3.0, 3.0, 3.0, 3.0,
  3.0, 3.0, 3.0, 3.0, 3.0, 3.2, 3.2, 3.2, 3.3, 3.5,
  3.2, 3.3, 3.3, 3.5, 3.2, 3.5, 3.6, 3.3, 3.5, 3.6,
  3.8,
];
const BA3_TAX = [
  0.2, 0.2, 0.2, 0.2, 0.2, 0.2, 0.2, 0.2, 0.2, 0.2,
  0.2, 0.2, 0.2, 0.2, 0.4, 0.8, 1.1, 1.3, 1.9, 3.5,
  5.4, 7.0, 8.3, 10.2, 13.4, 16.4, 18.0, 19.3, 21.7, 23.3,
  24.1, 25.5, 26.3, 27.4, 27.5, 29.8, 30.6, 31.9, 32.2, 33.8,
  34.4, 33.3, 34.6, 34.9, 35.1, 35.4, 35.9, 36.3, 36.2, 36.1,
  36.5, 37.3, 36.6, 36.9, 36.1, 36.6, 35.7, 34.9, 33.8, 33.5,
  32.5, 31.4, 30.0, 27.4, 26.3, 25.2, 23.9, 23.1, 21.2, 20.1,
  19.8, 20.7, 18.0, 17.2, 15.8, 15.1, 15.0, 15.8, 15.6, 15.3,
  13.4,
];
const BA3_BEN = [
  3.8, 4.0, 4.0, 4.0, 4.0, 14.2, 14.6, 14.5, 14.2, 14.2,
  14.1, 13.8, 14.1, 14.2, 14.4, 14.6, 14.6, 14.6, 14.6, 15.1,
  15.6, 15.0, 14.2, 12.1, 9.1, 5.9, 5.8, 5.4, 5.4, 5.4,
  5.1, 4.8, 4.8, 4.9, 5.1, 5.1, 4.9, 4.7, 4.9, 5.3,
  5.1, 4.8, 5.1, 4.4, 5.3, 5.3, 5.4, 5.6, 5.6, 5.6,
  6.0, 6.2, 6.3, 6.7, 7.2, 7.5, 8.0, 8.3, 8.9, 9.9,
  10.7, 11.8, 13.9, 17.7, 22.0, 29.0, 36.5, 38.1, 39.7, 41.3,
  41.8, 41.7, 41.6, 42.1, 42.6, 41.3, 40.5, 41.4, 41.4, 42.0,
  44.0,
];

// ---- More than a bachelor's degree, 1st generation
const MA1_EDU = [
  0, 0, 0, 0, 0, 13.7, 13.2, 16.6, 14.7, 13.4,
  13.1, 13.7, 14.7, 14.0, 13.9, 13.4, 14.1, 13.1, 12.4, 9.2,
  10.8, 11.4, 8.9, 6.6, 5.3, 4.4, 3.4, 3.1, 2.4, 1.7,
  1.5, 1.5, 1.5, 1.2, 0.8, 0.8, 0.8, 0.8, 0.7, 0.5,
  0.3, 0.3, 0.3, 0.3, 0.3, 0.3, 0.3, 0.3, 0.3, 0.3,
  0.3, 0.3, 0.3, 0.3, 0.3, 0.3, 0.3, 0.3, 0.3, 0.3,
  0.3, 0.3, 0.3, 0.3, 0.3, 0.3, 0.3, 0.3, 0.3, 0.3,
  0.3, 0.3, 0.3, 0.3, 0.3, 0.3, 0.3, 0.3, 0.3, 0.3,
  0.3,
];
const MA1_HEA = [
  0.5, 0.5, 0.5, 0.5, 0.5, 0.5, 0.5, 0.5, 0.5, 0.5,
  0.5, 0.5, 0.5, 0.5, 0.5, 0.3, 0.3, 0.3, 0.3, 0.3,
  0.3, 0.3, 0.3, 0.3, 0.3, 0.3, 0.3, 0.3, 0.3, 0.3,
  0.3, 0.3, 0.3, 0.3, 0.3, 0.3, 0.3, 0.3, 0.3, 0.3,
  0.3, 0.3, 0.3, 0.3, 0.3, 0.3, 0.3, 0.3, 0.3, 0.3,
  0.3, 0.3, 0.3, 0.3, 0.3, 0.3, 0.5, 0.5, 0.5, 0.5,
  0.5, 0.8, 0.8, 0.8, 1.5, 5.7, 8.6, 9.8, 10.5, 10.9,
  11.1, 11.4, 11.3, 11.6, 11.6, 11.6, 11.8, 12.1, 11.1, 11.8,
  13.4,
];
const MA1_OAS = [
  0, 0, 0, 0, 0, 0, 0, 0, 0, 0,
  0, 0, 0, 0, 0.3, 0.3, 0.3, 0.3, 0.3, 0.3,
  0.3, 0.3, 0.3, 0.3, 0.3, 0.3, 0.3, 0.3, 0.3, 0.3,
  0.3, 0.3, 0.3, 0.3, 0.3, 0.3, 0.3, 0.3, 0.3, 0.3,
  0.3, 0.3, 0.3, 0.3, 0.3, 0.3, 0.3, 0.3, 0.3, 0.3,
  0.3, 0.3, 0.3, 0.3, 0.3, 0.3, 0.7, 0.7, 0.7, 0.7,
  0.7, 0.7, 1.2, 2.1, 3.4, 6.0, 8.6, 10.2, 11.1, 12.4,
  13.7, 14.3, 14.8, 14.7, 14.7, 14.7, 14.5, 14.8, 13.1, 13.7,
  13.7,
];
const MA1_OTH = [
  2.6, 2.6, 2.6, 2.6, 2.6, 2.6, 2.6, 2.6, 2.6, 2.6,
  2.6, 2.6, 2.6, 2.6, 2.6, 2.6, 2.6, 2.6, 2.6, 2.6,
  2.6, 2.6, 2.6, 2.6, 2.6, 2.6, 2.6, 2.6, 2.6, 2.6,
  2.6, 2.6, 2.6, 2.6, 2.6, 2.6, 2.6, 2.6, 2.6, 2.6,
  2.6, 2.6, 2.6, 2.6, 2.6, 2.6, 2.6, 2.6, 2.6, 2.6,
  2.6, 2.6, 2.6, 2.6, 2.6, 2.6, 2.6, 2.6, 2.6, 2.6,
  2.6, 2.6, 2.6, 2.6, 2.6, 2.6, 2.6, 2.6, 2.6, 2.6,
  2.6, 2.6, 2.6, 2.6, 2.6, 2.6, 2.6, 2.6, 2.6, 2.6,
  2.6,
];
const MA1_TAX = [
  0.3, 0.3, 0.3, 0.3, 0.3, 0.3, 0.3, 0.3, 0.3, 0.3,
  0.3, 0.3, 0.3, 0.3, 0.5, 1.0, 1.0, 1.2, 1.8, 3.4,
  4.1, 5.0, 6.6, 9.5, 10.2, 12.7, 13.7, 15.3, 17.2, 19.5,
  21.7, 24.6, 26.2, 28.8, 31.1, 35.9, 37.5, 41.0, 41.7, 44.1,
  44.9, 44.1, 45.9, 46.0, 47.3, 48.1, 48.7, 49.2, 48.7, 48.1,
  48.6, 47.8, 49.4, 47.8, 48.4, 47.6, 47.5, 46.2, 44.9, 43.6,
  41.4, 41.7, 41.7, 35.2, 36.8, 35.2, 32.7, 31.7, 29.5, 28.8,
  28.8, 28.8, 25.0, 23.0, 21.7, 21.1, 20.3, 22.7, 18.8, 20.8,
  17.9,
];
const MA1_BEN = [
  2.9, 2.9, 2.9, 2.9, 2.9, 17.6, 16.6, 18.8, 17.2, 15.9,
  15.4, 15.6, 16.9, 15.9, 15.9, 15.6, 16.3, 15.3, 14.7, 12.1,
  13.1, 13.7, 12.1, 9.5, 8.2, 6.9, 6.0, 6.0, 5.1, 4.4,
  4.1, 4.1, 4.1, 4.1, 3.7, 3.7, 3.7, 3.7, 3.7, 3.7,
  3.5, 3.2, 3.2, 3.2, 3.2, 3.2, 3.2, 3.2, 3.2, 3.2,
  3.2, 3.2, 3.4, 3.6, 3.7, 3.9, 4.2, 4.4, 4.5, 4.7,
  4.7, 5.0, 5.7, 6.9, 8.6, 14.7, 17.9, 21.7, 23.7, 25.6,
  28.2, 29.5, 30.1, 29.5, 30.7, 30.7, 30.1, 32.7, 28.2, 30.9,
  33.6,
];

// ---- More than a bachelor's degree, 2nd generation
const MA2_EDU = [
  0, 0, 0, 0, 0, 13.4, 12.7, 13.1, 13.2, 13.4,
  13.1, 13.4, 13.7, 13.4, 13.5, 13.1, 11.8, 13.1, 11.8, 11.1,
  10.5, 9.5, 11.1, 6.0, 5.0, 3.7, 2.4, 2.1, 1.5, 1.2,
  1.0, 1.0, 0.8, 0.8, 1.0, 0.8, 0.7, 0.7, 0.5, 0.5,
  0.5, 0.5, 0.5, 0.5, 0.3, 0.3, 0.3, 0.3, 0.3, 0.3,
  0.3, 0.3, 0.3, 0.3, 0.3, 0.3, 0.3, 0.3, 0.3, 0.3,
  0.3, 0.3, 0.3, 0.3, 0.3, 0.3, 0.3, 0.3, 0.3, 0.3,
  0.3, 0.3, 0.3, 0.3, 0.3, 0.3, 0.3, 0.3, 0.3, 0.3,
  0.3,
];
const MA2_HEA = [
  0.3, 0.3, 0.3, 0.6, 0.6, 0.6, 0.6, 0.6, 0.6, 0.6,
  0.6, 0.6, 0.6, 0.6, 0.6, 0.6, 0.6, 0.6, 0.6, 0.3,
  0.3, 0.3, 0.3, 0.3, 0.3, 0.3, 0.3, 0.3, 0.3, 0.3,
  0.3, 0.3, 0.3, 0.3, 0.3, 0.3, 0.3, 0.3, 0.3, 0.3,
  0.3, 0.3, 0.3, 0.3, 0.3, 0.3, 0.3, 0.3, 0.3, 0.3,
  0.3, 0.3, 0.3, 0.3, 0.3, 0.3, 0.3, 0.3, 0.3, 0.3,
  0.3, 0.3, 0.3, 0.3, 0.5, 1.8, 6.9, 9.5, 10.5, 11.1,
  11.4, 11.8, 12.0, 12.0, 12.2, 12.2, 12.4, 12.5, 12.5, 12.5,
  14.0,
];
const MA2_OAS = [
  0, 0, 0, 0, 0, 0, 0, 0, 0, 0,
  0, 0, 0, 0, 0.3, 0.3, 0.3, 0.3, 0.3, 0.3,
  0.3, 0.3, 0.3, 0.3, 0.3, 0.3, 0.3, 0.3, 0.3, 0.3,
  0.3, 0.3, 0.3, 0.3, 0.3, 0.3, 0.3, 0.3, 0.3, 0.3,
  0.3, 0.3, 0.3, 0.3, 0.3, 0.3, 0.3, 0.3, 0.3, 0.3,
  0.3, 0.3, 0.3, 0.3, 0.3, 0.3, 0.3, 0.3, 0.3, 0.3,
  0.3, 0.3, 0.3, 0.5, 1.8, 8.2, 12.1, 14.0, 15.2, 15.9,
  16.7, 17.4, 17.7, 17.9, 18.2, 17.7, 17.4, 17.9, 17.7, 17.9,
  18.0,
];
const MA2_OTH = [
  2.3, 2.3, 2.3, 2.3, 2.3, 2.3, 2.3, 2.3, 2.3, 2.3,
  2.3, 2.3, 2.3, 2.3, 2.3, 2.8, 2.8, 2.8, 2.8, 2.8,
  2.8, 3.1, 3.1, 3.1, 3.1, 3.1, 3.1, 3.1, 3.1, 3.1,
  3.1, 3.1, 3.1, 3.1, 3.1, 3.1, 3.1, 3.1, 3.1, 3.1,
  3.1, 3.1, 3.1, 3.1, 3.1, 3.1, 3.1, 2.9, 2.9, 2.9,
  2.9, 2.9, 2.9, 2.9, 2.6, 2.6, 2.6, 2.6, 2.6, 2.6,
  2.6, 2.6, 2.6, 2.6, 2.6, 2.6, 2.6, 2.6, 2.6, 2.6,
  2.6, 2.6, 2.6, 2.6, 2.6, 2.6, 2.6, 2.6, 2.6, 2.6,
  2.6,
];
const MA2_TAX = [
  0.3, 0.3, 0.3, 0.3, 0.3, 0.3, 0.3, 0.3, 0.3, 0.3,
  0.3, 0.3, 0.3, 0.3, 0.6, 1.0, 1.2, 1.3, 1.8, 3.7,
  5.0, 6.6, 8.2, 10.2, 13.1, 15.9, 18.5, 21.1, 25.0, 27.5,
  30.1, 33.6, 35.9, 38.8, 40.7, 43.9, 46.0, 46.8, 49.7, 51.0,
  51.3, 49.1, 51.3, 52.3, 52.9, 53.2, 54.2, 54.9, 54.2, 54.5,
  55.2, 56.6, 54.4, 55.0, 54.4, 55.7, 54.7, 53.6, 52.9, 52.9,
  51.3, 50.0, 48.1, 42.3, 41.0, 37.8, 34.9, 33.3, 29.8, 28.5,
  28.2, 28.5, 24.0, 22.4, 20.8, 19.8, 19.3, 20.1, 19.3, 18.8,
  15.9,
];
const MA2_BEN = [
  3.7, 3.4, 3.3, 3.3, 3.3, 15.9, 15.6, 15.8, 15.6, 16.1,
  15.6, 16.3, 15.6, 16.7, 16.1, 16.1, 14.7, 15.9, 14.3, 13.4,
  13.1, 12.1, 14.0, 8.9, 7.3, 6.3, 5.8, 5.3, 4.7, 4.2,
  4.1, 4.1, 4.1, 3.9, 3.9, 4.1, 3.9, 3.7, 3.4, 3.3,
  3.2, 3.1, 2.9, 2.9, 2.9, 2.9, 2.9, 2.9, 2.9, 2.9,
  2.9, 2.9, 2.9, 2.9, 2.9, 2.9, 2.9, 2.9, 2.9, 2.9,
  2.9, 2.9, 2.9, 3.2, 4.4, 10.2, 17.9, 22.4, 26.6, 28.8,
  30.1, 31.1, 32.2, 33.0, 33.4, 33.6, 33.6, 34.6, 35.6, 37.2,
  40.4,
];

// ---- More than a bachelor's degree, 3rd+ generation
const MA3_EDU = [
  0, 0, 0, 0, 0, 11.4, 11.4, 11.4, 11.4, 11.4,
  11.4, 11.4, 11.4, 11.1, 11.4, 11.1, 10.2, 10.2, 11.8, 12.1,
  12.7, 12.1, 9.5, 6.6, 6.6, 2.4, 1.8, 1.5, 1.2, 1.0,
  0.8, 0.7, 0.7, 0.5, 0.5, 0.3, 0.3, 0.3, 0.3, 0.3,
  0.3, 0.3, 0.3, 0.3, 0.3, 0.3, 0.3, 0.3, 0.3, 0.3,
  0.3, 0.3, 0.3, 0.3, 0.3, 0.3, 0.3, 0.3, 0.3, 0.3,
  0.3, 0.3, 0.3, 0.3, 0.3, 0.3, 0.3, 0.3, 0.3, 0.3,
  0.3, 0.3, 0.3, 0.3, 0.3, 0.3, 0.3, 0.3, 0.3, 0.3,
  0.3,
];
const MA3_HEA = [
  0.3, 0.3, 0.3, 0.3, 0.3, 0.3, 0.3, 0.3, 0.3, 0.3,
  0.3, 0.3, 0.3, 0.3, 0.3, 0.3, 0.3, 0.3, 0.3, 0.3,
  0.3, 0.3, 0.3, 0.3, 0.3, 0.3, 0.3, 0.3, 0.3, 0.3,
  0.3, 0.3, 0.3, 0.3, 0.3, 0.3, 0.3, 0.3, 0.3, 0.3,
  0.3, 0.3, 0.3, 0.3, 0.3, 0.3, 0.3, 0.3, 0.3, 0.3,
  0.3, 0.5, 0.5, 0.5, 0.5, 0.5, 0.5, 0.5, 0.8, 0.8,
  0.8, 0.8, 0.8, 0.8, 1.3, 6.9, 9.5, 10.5, 11.1, 11.6,
  11.8, 12.0, 12.1, 12.2, 12.2, 12.4, 12.4, 12.4, 12.4, 12.4,
  14.0,
];
const MA3_OAS = [
  0, 0, 0, 0, 0, 0, 0, 0, 0, 0,
  0, 0, 0, 0, 0.6, 0.6, 0.6, 0.6, 0.6, 0.3,
  0.3, 0.3, 0.3, 0.3, 0.3, 0.3, 0.3, 0.3, 0.3, 0.3,
  0.3, 0.3, 0.3, 0.3, 0.3, 0.3, 0.3, 0.3, 0.3, 0.3,
  0.3, 0.3, 0.3, 0.3, 0.3, 0.3, 0.3, 0.3, 0.3, 0.3,
  0.3, 0.3, 0.3, 0.3, 0.3, 0.3, 0.3, 0.8, 0.8, 0.8,
  0.8, 1.2, 1.5, 2.4, 4.4, 8.2, 12.4, 14.3, 15.6, 16.6,
  16.9, 17.9, 18.0, 18.0, 17.9, 17.6, 17.2, 17.6, 17.4, 17.6,
  17.2,
];
const MA3_OTH = [
  2.3, 2.3, 2.3, 2.3, 2.3, 2.3, 2.3, 2.3, 2.3, 2.3,
  2.3, 2.3, 2.3, 2.3, 2.6, 2.6, 2.6, 2.6, 2.6, 2.6,
  2.9, 2.9, 2.9, 2.9, 2.9, 2.9, 2.9, 2.9, 2.9, 2.9,
  2.9, 2.9, 2.9, 2.9, 2.9, 2.9, 2.9, 2.9, 2.9, 2.9,
  2.9, 2.9, 3.2, 2.9, 3.3, 3.3, 3.3, 3.3, 3.3, 3.3,
  3.3, 3.3, 3.3, 3.3, 3.3, 3.3, 3.3, 3.3, 3.3, 3.3,
  3.3, 3.5, 3.5, 3.5, 3.5, 3.9, 3.7, 4.1, 3.9, 4.1,
  3.9, 3.7, 3.9, 3.7, 3.6, 3.7, 3.6, 3.7, 3.5, 3.7,
  4.1,
];
const MA3_TAX = [
  0.3, 0.3, 0.3, 0.3, 0.3, 0.3, 0.3, 0.3, 0.3, 0.3,
  0.3, 0.3, 0.3, 0.3, 0.6, 0.8, 1.3, 1.5, 2.1, 3.7,
  5.3, 7.3, 9.5, 11.1, 13.4, 17.2, 18.5, 20.4, 23.7, 25.9,
  26.9, 29.5, 31.1, 32.7, 33.2, 36.5, 38.8, 40.7, 40.8, 43.6,
  44.1, 42.3, 44.1, 44.6, 45.2, 45.9, 46.9, 47.3, 46.9, 47.3,
  48.1, 49.1, 47.5, 48.1, 47.5, 48.6, 47.8, 46.8, 45.5, 45.5,
  43.9, 43.0, 41.4, 37.5, 36.8, 35.2, 32.7, 32.3, 29.5, 27.8,
  27.8, 28.8, 24.3, 23.0, 21.1, 20.4, 20.3, 21.2, 20.4, 20.3,
  17.2,
];
const MA3_BEN = [
  3.3, 3.3, 3.3, 3.3, 3.3, 14.3, 14.3, 14.3, 14.3, 14.3,
  14.3, 14.3, 14.1, 14.3, 14.1, 14.3, 14.1, 14.0, 15.6, 15.0,
  16.3, 15.6, 12.7, 10.2, 9.8, 6.0, 5.5, 5.0, 4.7, 4.5,
  4.5, 4.5, 4.2, 4.5, 4.5, 4.5, 4.5, 4.5, 4.5, 4.5,
  4.9, 4.1, 4.4, 4.5, 4.7, 4.9, 5.0, 5.1, 5.1, 5.1,
  5.3, 5.8, 6.0, 6.6, 7.6, 7.3, 8.4, 8.6, 9.2, 9.8,
  11.4, 12.7, 15.3, 20.4, 28.8, 32.7, 39.7, 41.0, 43.6, 46.2,
  48.4, 48.6, 48.1, 48.7, 51.0, 48.1, 46.9, 49.4, 49.1, 50.0,
  51.0,
];

// Panels by education level (rows) and generation (columns);
// series order follows SERIES
const PANEL_DATA = [
  [
    [SC1_EDU, SC1_HEA, SC1_OAS, SC1_OTH, SC1_TAX, SC1_BEN],
    [SC2_EDU, SC2_HEA, SC2_OAS, SC2_OTH, SC2_TAX, SC2_BEN],
    [SC3_EDU, SC3_HEA, SC3_OAS, SC3_OTH, SC3_TAX, SC3_BEN],
  ],
  [
    [BA1_EDU, BA1_HEA, BA1_OAS, BA1_OTH, BA1_TAX, BA1_BEN],
    [BA2_EDU, BA2_HEA, BA2_OAS, BA2_OTH, BA2_TAX, BA2_BEN],
    [BA3_EDU, BA3_HEA, BA3_OAS, BA3_OTH, BA3_TAX, BA3_BEN],
  ],
  [
    [MA1_EDU, MA1_HEA, MA1_OAS, MA1_OTH, MA1_TAX, MA1_BEN],
    [MA2_EDU, MA2_HEA, MA2_OAS, MA2_OTH, MA2_TAX, MA2_BEN],
    [MA3_EDU, MA3_HEA, MA3_OAS, MA3_OTH, MA3_TAX, MA3_BEN],
  ],
];
const ROW_Y_TICKS = [Y_TICKS_50, Y_TICKS_50, Y_TICKS_60];

// ---------------- layout ----------------
const WIDTH = 1438;
const HEIGHT = 1560;
const FONT = "'Open Sans', 'Liberation Sans', sans-serif";
const PLOT_H = 311;
const ROW_LAYOUT = [
  { base: 381.5, titleX: 772 },
  { base: 886.5, titleX: 772 },
  { base: 1402.7, titleX: 752 },
];
const COL_LAYOUT = [
  { axisX: 41, left: 96, right: 483, subX: 291 },
  { axisX: 503, left: 557, right: 946, subX: 732 },
  { axisX: 979, left: 1033, right: 1421, subX: 1220 },
];
const LEGEND_LAYOUT = { y: 1545, r: 14.5, cx: [326, 498, 633, 780, 907, 1034], gap: 39 };

const fmtK = (v: number) => (v === 0 ? '0' : `${v}K`);

function Panel({ row, col }: { row: number; col: number }) {
  const rl = ROW_LAYOUT[row];
  const cl = COL_LAYOUT[col];
  const ticks = ROW_Y_TICKS[row];
  const yMax = ticks[ticks.length - 1];
  const x = d3.scaleLinear().domain([AGES[0], AGES[AGES.length - 1]]).range([cl.left, cl.right]);
  const y = d3.scaleLinear().domain([0, yMax]).range([rl.base, rl.base - PLOT_H]);
  const line = d3
    .line<number>()
    .x((_, i) => x(AGES[i]))
    .y((d) => y(d));
  const series = PANEL_DATA[row][col];
  const top = rl.base - PLOT_H;

  return (
    <g>
      <text x={cl.subX} y={top - 3} textAnchor="middle" fontSize={23} fill="#2b2b2b">
        {GENERATIONS[col]}
      </text>
      {ticks.map((t) => (
        <text key={t} x={cl.axisX + 0.5} y={y(t) - 8} fontSize={22} fill="#2b2b2b">
          {fmtK(t)}
        </text>
      ))}
      {series.map((vals, i) => (
        <path
          key={SERIES[i]}
          d={line(vals) || ''}
          fill="none"
          stroke={SERIES_COLORS[i]}
          strokeWidth={3.2}
          strokeLinejoin="round"
        />
      ))}
      <line x1={cl.axisX} x2={cl.right + 2} y1={rl.base} y2={rl.base} stroke="#1b1b1b" strokeWidth={2.5} />
      {AGE_TICKS.map((a) => (
        <text
          key={a}
          transform={`translate(${x(a) + 2},${rl.base + 21}) rotate(-45)`}
          textAnchor="end"
          fontSize={22}
          fill="#2b2b2b"
        >
          {a}
        </text>
      ))}
      {col === 0 && (
        <text
          transform={`translate(28,${(top + rl.base) / 2}) rotate(-90)`}
          textAnchor="middle"
          fontSize={23}
          fill="#2b2b2b"
        >
          Fiscal flows
        </text>
      )}
      {col === 1 && (
        <text x={cl.subX} y={rl.base + 70} textAnchor="middle" fontSize={22} fill="#2b2b2b">
          Age
        </text>
      )}
    </g>
  );
}

export default function App() {
  return (
    <svg
      width={WIDTH}
      height={HEIGHT}
      viewBox={`0 0 ${WIDTH} ${HEIGHT}`}
      style={{ position: 'absolute', left: 0, top: 0, background: '#ffffff' }}
      fontFamily={FONT}
    >
      <rect width={WIDTH} height={HEIGHT} fill="#ffffff" />
      {EDUCATION_LEVELS.map((title, r) => (
        <g key={title}>
          <text
            x={ROW_LAYOUT[r].titleX}
            y={ROW_LAYOUT[r].base - PLOT_H - 42}
            textAnchor="middle"
            fontSize={25}
            fontWeight={700}
            fill="#1f1f1f"
          >
            {title}
          </text>
          {GENERATIONS.map((g, c) => (
            <Panel key={g} row={r} col={c} />
          ))}
        </g>
      ))}
      <g>
        {SERIES.map((s, i) => (
          <g key={s}>
            <circle cx={LEGEND_LAYOUT.cx[i]} cy={LEGEND_LAYOUT.y} r={LEGEND_LAYOUT.r} fill={SERIES_COLORS[i]} />
            <text
              x={LEGEND_LAYOUT.cx[i] + LEGEND_LAYOUT.gap}
              y={LEGEND_LAYOUT.y + 8}
              fontSize={22}
              fill="#2b2b2b"
            >
              {s}
            </text>
          </g>
        ))}
      </g>
    </svg>
  );
}
